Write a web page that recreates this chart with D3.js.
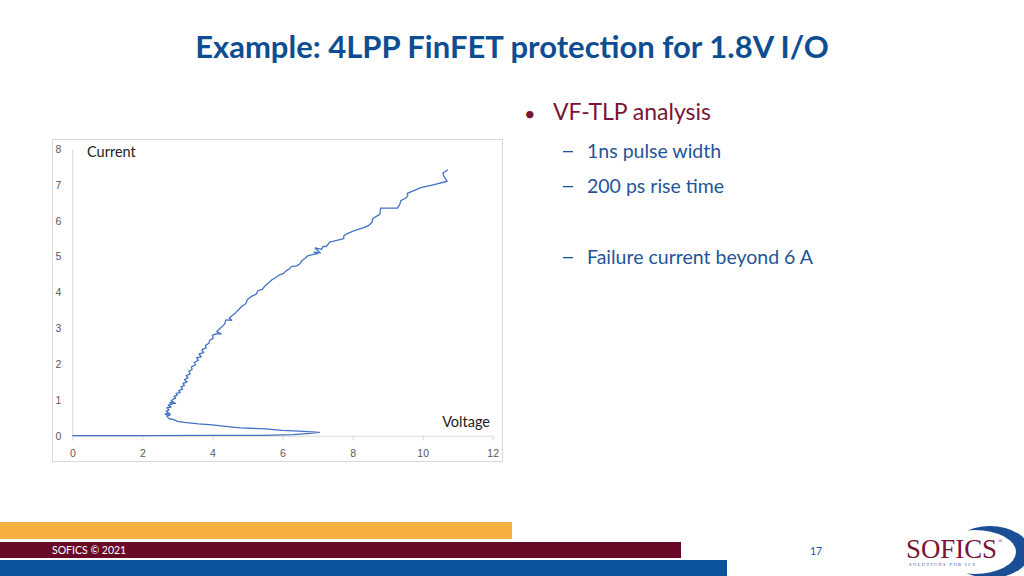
<!DOCTYPE html>
<html>
<head>
<meta charset="utf-8">
<script src="https://cdn.jsdelivr.net/npm/d3@7"></script>
<style>
  body { margin: 0; background: #fff; }
  svg { display: block; font-family: Lato, "Open Sans", sans-serif; }
</style>
</head>
<body>
<svg id="slide" width="1024" height="576"></svg>
<script>
// VF-TLP trace (voltage V, current A)
var voltage = [0, 2, 4, 5.5, 6.3, 6.7, 7.05, 6.6, 6.0, 5.5, 4.8, 4.3, 4.0, 3.6, 3.2, 3.0, 2.9,
  2.75, 2.70, 2.78, 2.65, 2.72, 2.80, 2.68, 2.76, 2.70, 2.82, 2.74, 2.85, 2.78, 2.95, 2.82, 2.88,
  2.95, 2.90, 3.00, 2.96, 3.08, 3.04, 3.15, 3.10, 3.20, 3.16, 3.28, 3.20, 3.30, 3.25, 3.36, 3.33,
  3.42, 3.40, 3.52, 3.48, 3.60, 3.55, 3.68, 3.62, 3.75, 3.70, 3.82, 3.80, 3.90, 3.92, 4.02, 4.00,
  4.10, 4.25, 4.12, 4.20, 4.28, 4.35, 4.38, 4.55, 4.48, 4.55, 4.65, 4.75, 4.85, 4.95, 5.00, 5.10,
  5.25, 5.30, 5.42, 5.50, 5.62, 5.70, 5.82, 5.90, 6.02, 6.10, 6.20, 6.25, 6.40, 6.50, 6.55, 6.65,
  6.72, 6.85, 7.00, 6.90, 7.08, 6.93, 7.12, 7.15, 7.25, 7.35, 7.55, 7.75, 7.75, 7.85, 8.05, 8.30,
  8.45, 8.55, 8.58, 8.68, 8.78, 8.80, 9.28, 9.35, 9.38, 9.50, 9.58, 9.56, 9.70, 9.95, 10.30, 10.70,
  10.60, 10.58, 10.72];
var current = [0, 0, 0.01, 0.01, 0.03, 0.06, 0.09, 0.12, 0.15, 0.19, 0.22, 0.27, 0.30, 0.33, 0.37, 0.40, 0.45,
  0.48, 0.55, 0.57, 0.60, 0.63, 0.60, 0.68, 0.72, 0.78, 0.80, 0.85, 0.88, 0.92, 0.90, 0.97, 1.02,
  1.05, 1.10, 1.13, 1.18, 1.20, 1.26, 1.30, 1.36, 1.40, 1.46, 1.50, 1.56, 1.62, 1.68, 1.72, 1.80,
  1.85, 1.92, 1.98, 2.05, 2.10, 2.18, 2.20, 2.28, 2.32, 2.40, 2.45, 2.52, 2.58, 2.66, 2.72, 2.80,
  2.84, 2.84, 2.90, 2.98, 3.05, 3.12, 3.23, 3.22, 3.28, 3.34, 3.42, 3.52, 3.62, 3.68, 3.80, 3.88,
  3.95, 4.05, 4.08, 4.18, 4.28, 4.35, 4.42, 4.48, 4.52, 4.60, 4.66, 4.72, 4.74, 4.80, 4.88, 4.95,
  5.02, 5.05, 5.08, 5.12, 5.10, 5.24, 5.20, 5.28, 5.28, 5.40, 5.45, 5.50, 5.58, 5.64, 5.72, 5.80,
  5.86, 5.95, 6.06, 6.12, 6.18, 6.35, 6.35, 6.46, 6.56, 6.62, 6.70, 6.76, 6.82, 6.92, 7.00, 7.10,
  7.25, 7.33, 7.42];
var xTicks = [0, 2, 4, 6, 8, 10, 12];
var yTicks = [0, 1, 2, 3, 4, 5, 6, 7, 8];

var subBullets = [
  {text: "1ns pulse width", y: 158},
  {text: "200 ps rise time", y: 193},
  {text: "Failure current beyond 6 A", y: 264}
];
var footerBars = [
  {x: 0, y: 522, w: 512, h: 17, color: "#f5b041"},
  {x: 0, y: 542, w: 681, h: 16, color: "#680a26"},
  {x: 0, y: 560, w: 727, h: 16, color: "#0b549d"}
];

var svg = d3.select("#slide");

// title
svg.append("text")
    .attr("x", 512).attr("y", 58)
    .attr("text-anchor", "middle")
    .attr("font-size", 31).attr("font-weight", "bold")
    .attr("fill", "#0f4d92")
    .text("Example: 4LPP FinFET protection for 1.8V I/O");

// bullets
svg.append("text").attr("x", 524).attr("y", 121)
    .attr("font-size", 20).attr("fill", "#7a1434").text("•");
svg.append("text").attr("x", 553).attr("y", 120)
    .attr("font-size", 23).attr("fill", "#7a1434").text("VF-TLP analysis");
var sub = svg.selectAll("g.sub").data(subBullets).enter().append("g").attr("class", "sub");
sub.append("rect").attr("x", 563).attr("y", function(d) { return d.y - 7; })
    .attr("width", 10).attr("height", 1.3).attr("fill", "#1f5597");
sub.append("text").attr("x", 587).attr("y", function(d) { return d.y; })
    .attr("font-size", 19.5).attr("fill", "#1f5597").text(function(d) { return d.text; });

// chart box
svg.append("rect")
    .attr("x", 52.5).attr("y", 139.5).attr("width", 450).attr("height", 322)
    .attr("fill", "#fff").attr("stroke", "#d9d9d9");

var x = d3.scaleLinear().domain([0, 12]).range([72.3, 492.7]);
var y = d3.scaleLinear().domain([0, 8]).range([435.7, 149]);

var xAxis = svg.append("g")
    .attr("transform", "translate(0," + y(0) + ")")
    .call(d3.axisBottom(x).tickValues(xTicks).tickSize(5).tickSizeOuter(0).tickPadding(9));
xAxis.selectAll("line, path").attr("stroke", "#d9d9d9");
xAxis.selectAll("text").attr("fill", "#595959").attr("font-size", 10.5);

var yAxis = svg.append("g")
    .attr("transform", "translate(" + x(0) + ",0)")
    .call(d3.axisLeft(y).tickValues(yTicks).tickSize(0).tickPadding(11));
yAxis.selectAll("line, path").attr("stroke", "#d9d9d9");
yAxis.selectAll("text").attr("fill", "#595959").attr("font-size", 10.5);

svg.append("text").attr("x", 87).attr("y", 157)
    .attr("font-size", 14.5).attr("fill", "#222").text("Current");
svg.append("text").attr("x", 490).attr("y", 427).attr("text-anchor", "end")
    .attr("font-size", 14.5).attr("fill", "#222").text("Voltage");

var line = d3.line()
    .x(function(d, i) { return x(voltage[i]); })
    .y(function(d, i) { return y(current[i]); });
svg.append("path")
    .datum(voltage)
    .attr("d", line)
    .attr("fill", "none")
    .attr("stroke", "#4472c4")
    .attr("stroke-width", 1.3)
    .attr("stroke-linejoin", "round");

// footer
svg.selectAll("rect.bar").data(footerBars).enter().append("rect")
    .attr("class", "bar")
    .attr("x", function(d) { return d.x; }).attr("y", function(d) { return d.y; })
    .attr("width", function(d) { return d.w; }).attr("height", function(d) { return d.h; })
    .attr("fill", function(d) { return d.color; });
svg.append("text").attr("x", 52).attr("y", 554)
    .attr("font-size", 10.5).attr("fill", "#fff").text("SOFICS © 2021");
svg.append("text").attr("x", 816).attr("y", 555).attr("text-anchor", "middle")
    .attr("font-size", 10.5).attr("fill", "#1f5597").text("17");

// logo
var logo = svg.append("g");
logo.append("ellipse").attr("cx", 990).attr("cy", 552).attr("rx", 40).attr("ry", 26).attr("fill", "#1a4f95");
logo.append("ellipse").attr("cx", 975).attr("cy", 552).attr("rx", 41).attr("ry", 22).attr("fill", "#fff");
logo.append("text").attr("x", 906).attr("y", 558)
    .attr("font-family", "'Liberation Serif', serif").attr("font-size", 27)
    .attr("fill", "#7a1434").attr("textLength", 91).attr("lengthAdjust", "spacingAndGlyphs").text("SOFICS");
logo.append("text").attr("x", 998).attr("y", 543)
    .attr("font-family", "'Liberation Serif', serif").attr("font-size", 6).attr("fill", "#7a1434").text("®");
logo.append("text").attr("x", 909).attr("y", 566)
    .attr("font-family", "'Liberation Serif', serif").attr("font-size", 4.5).attr("fill", "#1a4f95")
    .attr("textLength", 66).text("SOLUTIONS FOR ICS");
</script>
</body>
</html>
